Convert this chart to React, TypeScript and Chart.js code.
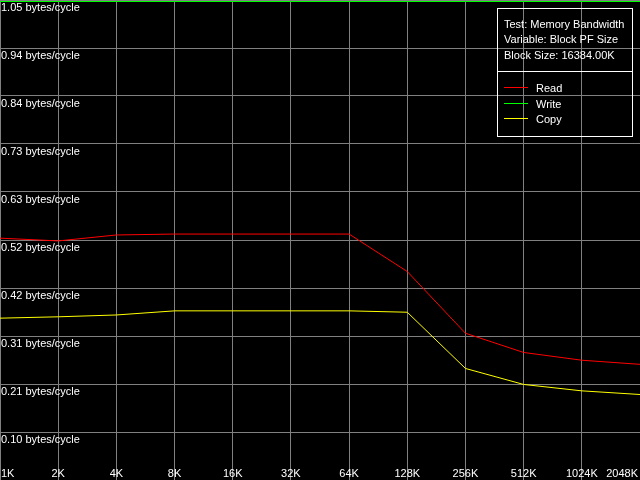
import React, { useEffect, useRef } from 'react';
import { Chart, registerables } from 'chart.js';

Chart.register(...registerables);

const categories = ['1K', '2K', '4K', '8K', '16K', '32K', '64K', '128K', '256K', '512K', '1024K', '2048K'];
const readValues = [0.529, 0.523, 0.536, 0.538, 0.538, 0.538, 0.538, 0.456, 0.321, 0.279, 0.262, 0.253];
const writeValues = [1.0467, 1.0467, 1.0467, 1.0467, 1.0467, 1.0467, 1.0467, 1.0467, 1.0467, 1.0467, 1.0467, 1.0467];
const copyValues = [0.354, 0.357, 0.361, 0.370, 0.370, 0.370, 0.370, 0.367, 0.244, 0.209, 0.195, 0.187];

const yMax = 1.05;
const yStep = 0.105;
const yTickLabels = [
  '',
  '0.10 bytes/cycle',
  '0.21 bytes/cycle',
  '0.31 bytes/cycle',
  '0.42 bytes/cycle',
  '0.52 bytes/cycle',
  '0.63 bytes/cycle',
  '0.73 bytes/cycle',
  '0.84 bytes/cycle',
  '0.94 bytes/cycle',
  '1.05 bytes/cycle',
];

const infoLines = ['Test: Memory Bandwidth', 'Variable: Block PF Size', 'Block Size: 16384.00K'];
const seriesNames = ['Read', 'Write', 'Copy'];
const seriesColors = ['#ff0000', '#00ff00', '#ffff00'];

const FONT = '11px "Liberation Sans", Arial, sans-serif';
const GRID = '#808080';

const labelPlugin = {
  id: 'customLabels',
  afterDraw(chart: any) {
    const ctx = chart.ctx as CanvasRenderingContext2D;
    const xs = chart.scales.x;
    const ys = chart.scales.y;
    const area = chart.chartArea;
    ctx.save();
    ctx.font = FONT;
    ctx.fillStyle = '#ffffff';

    // y tick labels (below their grid line)
    ctx.textAlign = 'left';
    ctx.textBaseline = 'top';
    ys.ticks.forEach((t: any, i: number) => {
      const lbl = yTickLabels[i];
      if (!lbl) return;
      const y = Math.max(ys.getPixelForValue(t.value), area.top);
      ctx.fillText(lbl, area.left + 1, y + 2);
    });

    // x tick labels
    ctx.textBaseline = 'bottom';
    const last = categories.length - 1;
    categories.forEach((c, i) => {
      const x = xs.getPixelForValue(i);
      if (i === 0) {
        ctx.textAlign = 'left';
        ctx.fillText(c, x + 1, area.bottom - 1);
      } else if (i === last) {
        ctx.textAlign = 'right';
        ctx.fillText(c, x - 2, area.bottom - 1);
      } else {
        ctx.textAlign = 'center';
        ctx.fillText(c, x, area.bottom - 1);
      }
    });

    // info / legend box
    const bx = 497.5;
    const by = 8.5;
    const bw = 135;
    const bh = 128;
    ctx.strokeStyle = '#ffffff';
    ctx.lineWidth = 1;
    ctx.strokeRect(bx, by, bw, bh);
    ctx.beginPath();
    ctx.moveTo(bx, 71.5);
    ctx.lineTo(bx + bw, 71.5);
    ctx.stroke();

    ctx.textAlign = 'left';
    ctx.textBaseline = 'alphabetic';
    ctx.fillStyle = '#ffffff';
    infoLines.forEach((l, i) => {
      ctx.fillText(l, 504, 27.5 + i * 15.5);
    });
    seriesNames.forEach((n, i) => {
      const y = 87 + Math.round(i * 15.5);
      ctx.fillStyle = seriesColors[i];
      ctx.fillRect(504, y, 24, 1);
      ctx.fillStyle = '#ffffff';
      ctx.fillText(n, 536, y + 4.5);
    });
    ctx.restore();
  },
};

export default function App() {
  const canvasRef = useRef<HTMLCanvasElement | null>(null);

  useEffect(() => {
    document.body.style.margin = '0';
    document.body.style.background = '#000000';
    const canvas = canvasRef.current;
    if (!canvas) return;
    const series = [readValues, writeValues, copyValues];
    const chart = new Chart(canvas, {
      type: 'line',
      data: {
        labels: categories,
        datasets: series.map((d, i) => ({
          label: seriesNames[i],
          data: d,
          borderColor: seriesColors[i],
          backgroundColor: seriesColors[i],
          borderWidth: 1,
          pointRadius: 0,
          tension: 0,
          fill: false,
        })),
      },
      options: {
        animation: false,
        responsive: false,
        devicePixelRatio: 1,
        layout: { padding: 0 },
        plugins: {
          legend: { display: false },
          tooltip: { enabled: false },
          title: { display: false },
        },
        scales: {
          x: {
            type: 'category',
            offset: false,
            grid: { color: GRID, lineWidth: 1, drawTicks: false },
            border: { display: false },
            ticks: { display: false },
          },
          y: {
            min: 0,
            max: yMax,
            grid: { color: GRID, lineWidth: 1, drawTicks: false },
            border: { display: false },
            ticks: { display: false, stepSize: yStep },
          },
        },
      },
      plugins: [labelPlugin],
    });
    return () => chart.destroy();
  }, []);

  return (
    <div style={{ width: 640, height: 480, background: '#000000' }}>
      <canvas ref={canvasRef} width={640} height={480} style={{ display: 'block', width: 640, height: 480 }} />
    </div>
  );
}
